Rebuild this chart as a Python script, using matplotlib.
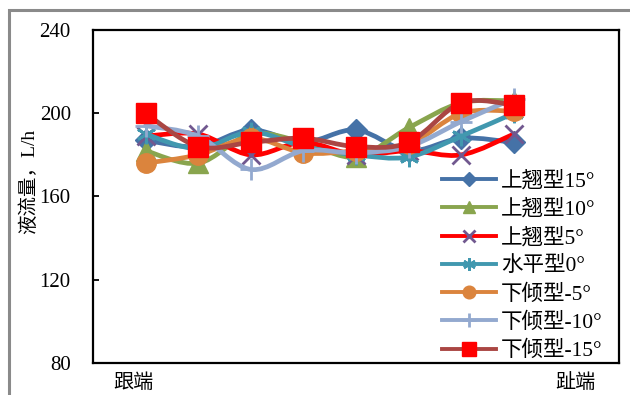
import matplotlib.pyplot as plt
from matplotlib.lines import Line2D
from matplotlib.patches import PathPatch, Rectangle
from matplotlib.path import Path

plt.rcParams["font.family"] = ["Liberation Serif", "Noto Sans CJK SC"]

# measuring positions from heel (跟端) to toe (趾端)
positions = [1, 2, 3, 4, 5, 6, 7, 8]

labels = ["上翘型15°", "上翘型10°", "上翘型5°", "水平型0°",
          "下倾型-5°", "下倾型-10°", "下倾型-15°"]

up_15 = [187, 184, 192, 186, 192, 182, 188, 186]
up_10 = [182, 176, 190, 186, 179, 193, 205, 206]
up_5 = [189, 190, 180, 186, 180, 182, 180, 190]
flat_0 = [190, 183, 191, 184, 180, 179, 189, 200]
down_5 = [176, 180, 188, 181, 182, 185, 200, 201]
down_10 = [194, 189, 173, 182, 181, 184, 196, 207]
down_15 = [200, 184, 186, 188, 184, 186, 205, 204]

series = [up_15, up_10, up_5, flat_0, down_5, down_10, down_15]

# (line colour, marker, marker size, marker face, marker edge, edge width)
STYLES = [
    ("#4572A7", "D", 11, "#4572A7", "#4572A7", 1.0),
    ("#89A54E", "^", 14, "#89A54E", "#89A54E", 1.0),
    ("#FF0000", "x", 13, "none", "#71588F", 2.0),
    ("#4198AF", (6, 2, 0), 14, "none", "#4198AF", 2.0),
    ("#DB843D", "o", 14, "#DB843D", "#DB843D", 1.0),
    ("#93A9CF", "+", 16, "none", "#93A9CF", 2.0),
    ("#AA4643", "s", 15, "#FF0000", "#FF0000", 1.0),
]


def smooth_path(xs, ys):
    """Excel-style smoothed line: cubic Bezier segments through every point."""
    pts = list(zip(xs, ys))
    verts = [pts[0]]
    codes = [Path.MOVETO]
    n = len(pts)
    for i in range(n - 1):
        p0 = pts[i - 1] if i > 0 else pts[i]
        p1 = pts[i]
        p2 = pts[i + 1]
        p3 = pts[i + 2] if i + 2 < n else pts[i + 1]
        c1 = (p1[0] + (p2[0] - p0[0]) / 6, p1[1] + (p2[1] - p0[1]) / 6)
        c2 = (p2[0] - (p3[0] - p1[0]) / 6, p2[1] - (p3[1] - p1[1]) / 6)
        verts += [c1, c2, p2]
        codes += [Path.CURVE4] * 3
    return Path(verts, codes)


fig = plt.figure(figsize=(6.3, 3.95), dpi=100)
ax = fig.add_axes([93 / 630, 1 - 363 / 395, 526 / 630, 333 / 395])

handles = []
for k, (vals, lab, st) in enumerate(zip(series, labels, STYLES)):
    lc, mk, ms, mfc, mec, mew = st
    ax.add_patch(PathPatch(smooth_path(positions, vals), facecolor="none",
                           edgecolor=lc, lw=3.4, capstyle="round",
                           joinstyle="round", zorder=2 + 2 * k))
    ax.plot(positions, vals, linestyle="none", marker=mk, ms=ms, mfc=mfc,
            mec=mec, mew=mew, zorder=3 + 2 * k)
    handles.append(Line2D([], [], color=lc, lw=2.8, marker=mk, ms=ms * 0.65,
                          mfc=mfc, mec=mec, mew=mew, label=lab))

ax.set_xlim(0, 10)
ax.set_ylim(80, 240)
ax.set_yticks([80, 120, 160, 200, 240])
ax.set_xticks([0.76, 9.18], ["跟端", "趾端"])
ax.tick_params(axis="x", length=0, pad=8, labelsize=14.5)
ax.tick_params(axis="y", direction="in", length=4, width=1.3, pad=16,
               labelsize=15)
for sp in ax.spines.values():
    sp.set_linewidth(1.6)
    sp.set_color("black")

ax.set_ylabel("液流量，L/h", fontsize=14)
ax.yaxis.set_label_coords(-0.104, 0.545)

ax.legend(handles=handles, loc="upper left",
          bbox_to_anchor=((442 - 93) / 526, (363 - 171) / 333),
          frameon=False, fontsize=15.5, handlelength=2.5, handletextpad=0.25,
          labelspacing=0.37, borderpad=0, borderaxespad=0)

# grey chart-area border
fig.patches.append(Rectangle((8.5 / 630, -0.1), 1.2, 1 - 9.5 / 395 + 0.1,
                             transform=fig.transFigure, fill=False,
                             edgecolor="#8a8a8a", lw=2.2))

fig.savefig("out.png", dpi=100)
